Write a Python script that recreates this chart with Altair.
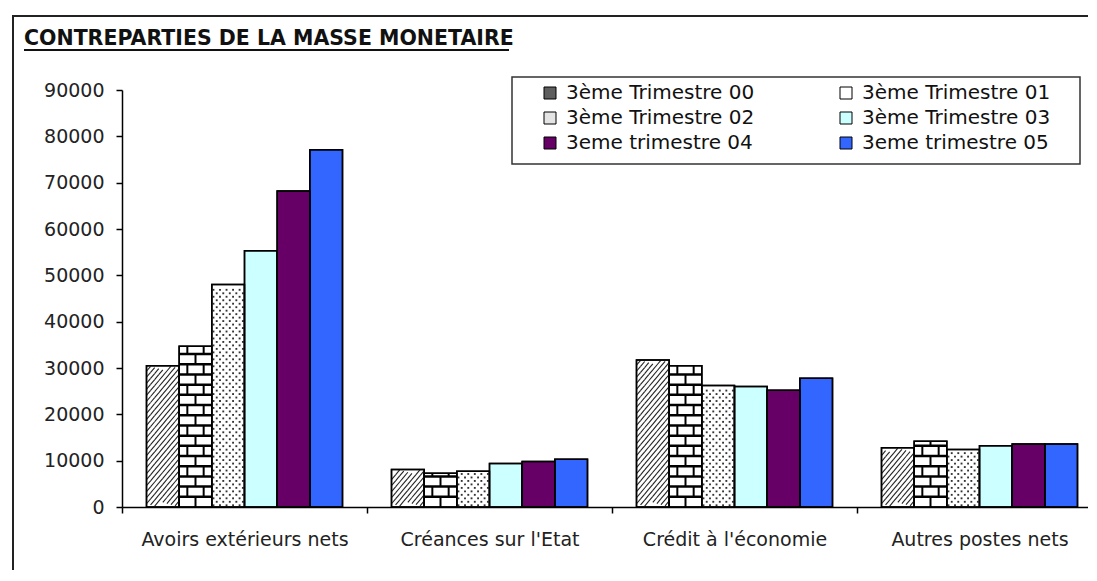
import altair as alt
import pandas as pd

# ---------------- data ----------------
categories = ["Avoirs extérieurs nets", "Créances sur l'Etat", "Crédit à l'économie", "Autres postes nets"]
series = ["3ème Trimestre 00", "3ème Trimestre 01", "3ème Trimestre 02",
          "3ème Trimestre 03", "3eme trimestre 04", "3eme trimestre 05"]
t00 = [30500, 8100, 31700, 12800]
t01 = [34700, 7300, 30500, 14200]
t02 = [48000, 7700, 26200, 12400]
t03 = [55300, 9400, 26000, 13200]
t04 = [68200, 9800, 25200, 13600]
t05 = [77100, 10300, 27800, 13600]
values_by_series = [t00, t01, t02, t03, t04, t05]
series_fills = ["#ffffff", "#ffffff", "#ffffff", "#ccffff", "#660066", "#3366ff"]
legend_symbol_fills = ["#5e5e5e", "#ffffff", "#e4e4e4", "#ccffff", "#660066", "#3366ff"]
y_tick_values = [0, 10000, 20000, 30000, 40000, 50000, 60000, 70000, 80000, 90000]
title_text = "CONTREPARTIES DE LA MASSE MONETAIRE"

rows = []
for s, vals in zip(series, values_by_series):
    for c, v in zip(categories, vals):
        rows.append({"cat": c, "ser": s, "val": v})
df = pd.DataFrame(rows)
deco = pd.DataFrame({"d": [0]})

# legend is read row by row (two columns): order the legend domain column-wise
legend_order = series[0::2] + series[1::2]
legend_fills = [legend_symbol_fills[series.index(s)] for s in legend_order]

# ---------------- layout / style ----------------
W, H = 966, 417
X_RANGE = 980
OUTER = 0.75
SUB = 1.0 / (len(series) + 2 * OUTER)
FONT = "DejaVu Sans"


def frac(j, t):
    return (OUTER + j + t) * SUB


X_SCALE = alt.Scale(domain=categories, range=[0, X_RANGE], paddingInner=0, paddingOuter=0)
X_AXIS = alt.Axis(title=None, tickBand="extent", labelAngle=0, labelFont=FONT, labelFontSize=19,
                  labelColor="#222", labelPadding=17, labelLimit=400, tickSize=6, tickWidth=1.5,
                  tickColor="black", domainColor="black", domainWidth=1.5, grid=False)
Y_SCALE = alt.Scale(domain=[0, 90000], nice=False)
Y_AXIS = alt.Axis(title=None, values=y_tick_values, format="d", labelFont=FONT, labelFontSize=19,
                  labelColor="#222", labelPadding=12, tickSize=6, tickWidth=1.5, tickColor="black",
                  domainColor="black", domainWidth=1.5, grid=False)


def xpos(j, t0, t1=None):
    enc = {"x": alt.X("cat:N", scale=X_SCALE, axis=X_AXIS, sort=categories, bandPosition=frac(j, t0))}
    if t1 is not None:
        enc["x2"] = alt.X2("cat", bandPosition=frac(j, t1))
    return enc


def yq(field):
    return alt.Y(f"{field}:Q", scale=Y_SCALE, axis=Y_AXIS)


X_BAR = alt.X("cat:N", scale=X_SCALE, axis=X_AXIS, sort=categories)
XOFF = alt.XOffset("ser:N", scale=alt.Scale(domain=series, paddingInner=0, paddingOuter=OUTER), sort=series)

# ---------------- decorations ----------------
frame_left = alt.Chart(deco).mark_rule(color="#222", strokeWidth=2).encode(
    x=alt.value(-109), y=alt.value(-74), y2=alt.value(H + 120))
frame_top = alt.Chart(deco).mark_rule(color="#222", strokeWidth=2).encode(
    x=alt.value(-110), x2=alt.value(X_RANGE + 40), y=alt.value(-74))
title = alt.Chart(deco).mark_text(text=title_text, align="left", baseline="alphabetic", font=FONT,
                                  fontWeight="bold", fontSize=20.5, color="#111").encode(
    x=alt.value(-98), y=alt.value(-45))
underline = alt.Chart(deco).mark_rule(color="#111", strokeWidth=2).encode(
    x=alt.value(-98), x2=alt.value(387), y=alt.value(-40))
legend_box = alt.Chart(deco).mark_rect(fill="white", stroke="#333", strokeWidth=1.5).encode(
    x=alt.value(390), x2=alt.value(958), y=alt.value(-13), y2=alt.value(74))

# legend carrier: tiny squares hidden under the bars, giving the legend its symbols
legend_carrier = alt.Chart(df).transform_calculate(mid="datum.val / 2").mark_square(
    size=2, opacity=1).encode(
    x=X_BAR, xOffset=XOFF, y=yq("mid"),
    fill=alt.Fill("ser:N", scale=alt.Scale(domain=legend_order, range=legend_fills),
                  legend=alt.Legend(title=None, orient="none", legendX=418, legendY=-7, columns=2,
                                    symbolType="square", symbolSize=144, symbolStrokeColor="black",
                                    symbolStrokeWidth=1, symbolOpacity=1, labelFont=FONT,
                                    labelFontSize=20, labelColor="#111", labelOffset=6,
                                    labelLimit=400, rowPadding=5, columnPadding=81, padding=0)))

# ---------------- bars ----------------
bars = alt.Chart(df).mark_bar(stroke="black", strokeWidth=1.5).encode(
    x=X_BAR, xOffset=XOFF, y=yq("val"),
    color=alt.Color("ser:N", scale=alt.Scale(domain=series, range=series_fills), legend=None))

# diagonal hatch for series 00
HATCH_STEP = 1300
HATCH_RISE = 8400
K = 8
hatch_layers = []
for k in range(K):
    hatch_layers.append(
        alt.Chart(df)
        .transform_filter(alt.datum.ser == series[0])
        .transform_calculate(lv=f"sequence({-HATCH_RISE}, datum.val, {HATCH_STEP})")
        .transform_flatten(["lv"])
        .transform_calculate(y0=f"datum.lv + {k * HATCH_RISE / K}",
                             y1=f"datum.lv + {(k + 1) * HATCH_RISE / K}")
        .transform_filter("datum.y0 >= 0 && datum.y1 <= datum.val")
        .mark_rule(color="#222", strokeWidth=1.1)
        .encode(**xpos(0, k / K, (k + 1) / K), y=yq("y0"), y2="y1:Q")
    )

# brick pattern for series 01
BRICK = 2200
brick_layers = [
    alt.Chart(df)
    .transform_filter(alt.datum.ser == series[1])
    .transform_calculate(lv=f"sequence({BRICK}, datum.val - 400, {BRICK})")
    .transform_flatten(["lv"])
    .mark_rule(color="black", strokeWidth=2.5)
    .encode(**xpos(1, 0, 1), y=yq("lv"))
]
for t, parity in [(0.5, 0), (0.25, 1), (0.75, 1)]:
    brick_layers.append(
        alt.Chart(df)
        .transform_filter(alt.datum.ser == series[1])
        .transform_calculate(lv=f"sequence(0, datum.val, {BRICK})")
        .transform_flatten(["lv"])
        .transform_calculate(ri=f"round(datum.lv / {BRICK})", top=f"min(datum.lv + {BRICK}, datum.val)")
        .transform_filter(f"datum.ri % 2 == {parity}")
        .mark_rule(color="black", strokeWidth=2)
        .encode(**xpos(1, t), y=yq("lv"), y2="top:Q")
    )

# dotted pattern for series 02
DOT = 750
NCOL = 10
dot_layers = []
for c in range(NCOL):
    dot_layers.append(
        alt.Chart(df)
        .transform_filter(alt.datum.ser == series[2])
        .transform_calculate(lv=f"sequence({DOT / 2}, datum.val - {DOT / 2}, {DOT})")
        .transform_flatten(["lv"])
        .transform_calculate(ri=f"floor(datum.lv / {DOT})")
        .transform_filter(f"datum.ri % 2 == {c % 2}")
        .mark_square(size=3.5, color="#333", opacity=1, strokeWidth=0)
        .encode(**xpos(2, (c + 0.5) / NCOL), y=yq("lv"))
    )

outline = alt.Chart(df).mark_bar(fillOpacity=0, stroke="black", strokeWidth=1.5).encode(
    x=X_BAR, xOffset=XOFF, y=yq("val"))

chart = alt.layer(
    frame_left, frame_top, title, underline, legend_box, legend_carrier, bars,
    *hatch_layers, *brick_layers, *dot_layers, outline
).properties(
    width=W, height=H,
    autosize=alt.AutoSizeParams(type="none"),
    padding={"left": 114, "top": 82, "right": 0, "bottom": 63},
    background="white",
).configure_view(stroke=None)

chart.save("out.html", embed_options={"renderer": "svg", "actions": False})
